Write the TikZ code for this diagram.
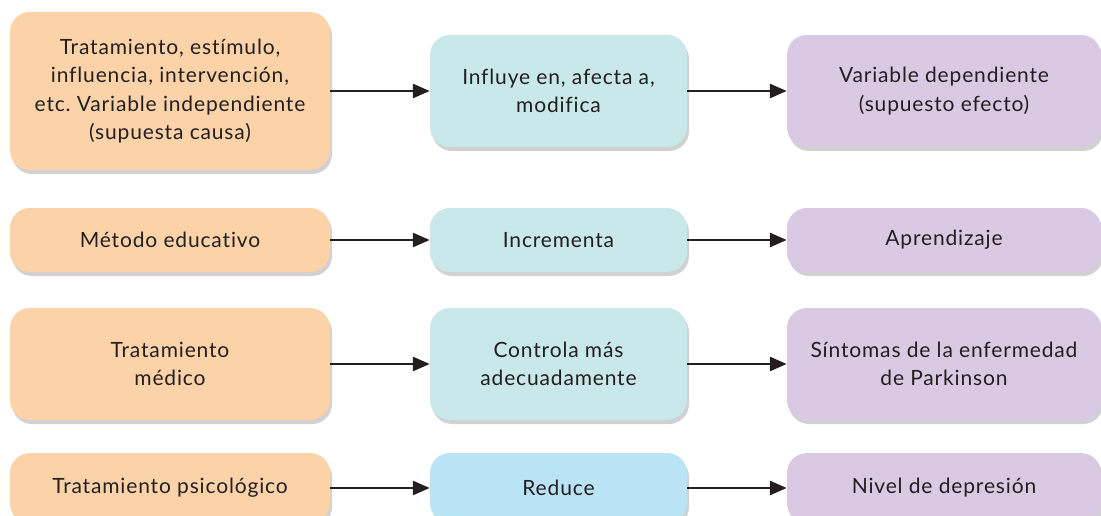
\documentclass[tikz,border=0pt]{standalone}
\usepackage{fontspec}
\setmainfont{Lato}[LetterSpace=4, Ligatures={NoCommon,NoRare}]
\usetikzlibrary{arrows.meta,shadows}
\frenchspacing
\definecolor{cOr}{HTML}{FCD3A9}
\definecolor{cCy}{HTML}{C8E8EA}
\definecolor{cBl}{HTML}{BAE3F6}
\definecolor{cPu}{HTML}{D9C9E2}
\definecolor{cTx}{HTML}{231F20}
\tikzset{
  box/.style={rectangle, rounded corners=20pt, inner sep=2pt, align=center,
    text=cTx, font=\fontsize{21}{28.5}\selectfont,
    drop shadow={shadow xshift=2pt, shadow yshift=-4pt, fill=black, opacity=0.18}},
  orb/.style={box, fill=cOr},
  cyb/.style={box, fill=cCy},
  blb/.style={box, fill=cBl},
  pub/.style={box, fill=cPu},
  arr/.style={draw=cTx, line width=2.8pt, -{Triangle[length=17pt,width=14pt]}}
}
\begin{document}
\begin{tikzpicture}[x=1pt,y=-1pt]
\useasboundingbox[fill=white] (0,0) rectangle (1101,516);
% row 1
\node[orb, minimum width=320pt, minimum height=158pt] (a1) at (170,91) {Tratamiento, estímulo,\\influencia, intervención,\\etc.\ Variable independiente\\(supuesta causa)};
\node[cyb, minimum width=257pt, minimum height=112pt] (b1) at (558.5,91) {Influye en, afecta a,\\modifica};
\node[pub, minimum width=314pt, minimum height=112pt] (c1) at (944,91) {Variable dependiente\\(supuesto efecto)};
% row 2
\node[orb, minimum width=320pt, minimum height=64pt] (a2) at (170,240) {Método educativo};
\node[cyb, minimum width=257pt, minimum height=64pt] (b2) at (558.5,240) {Incrementa};
\node[pub, minimum width=314pt, minimum height=64pt] (c2) at (944,240) {Aprendizaje};
% row 3
\node[orb, minimum width=320pt, minimum height=112pt] (a3) at (170,364) {Tratamiento\\médico};
\node[cyb, minimum width=257pt, minimum height=112pt] (b3) at (558.5,364) {Controla más\\adecuadamente};
\node[pub, minimum width=314pt, minimum height=112pt] (c3) at (944,364) {Síntomas de la enfermedad\\de Parkinson};
% row 4
\node[orb, minimum width=320pt, minimum height=70pt] (a4) at (170,488) {Tratamiento psicológico};
\node[blb, minimum width=257pt, minimum height=70pt] (b4) at (558.5,488) {Reduce};
\node[pub, minimum width=314pt, minimum height=70pt] (c4) at (944,488) {Nivel de depresión};
% arrows
\foreach \r in {1,2,3,4}{
  \draw[arr] (a\r.east) -- (b\r.west);
  \draw[arr] (b\r.east) -- (c\r.west);
}
\end{tikzpicture}
\end{document}
